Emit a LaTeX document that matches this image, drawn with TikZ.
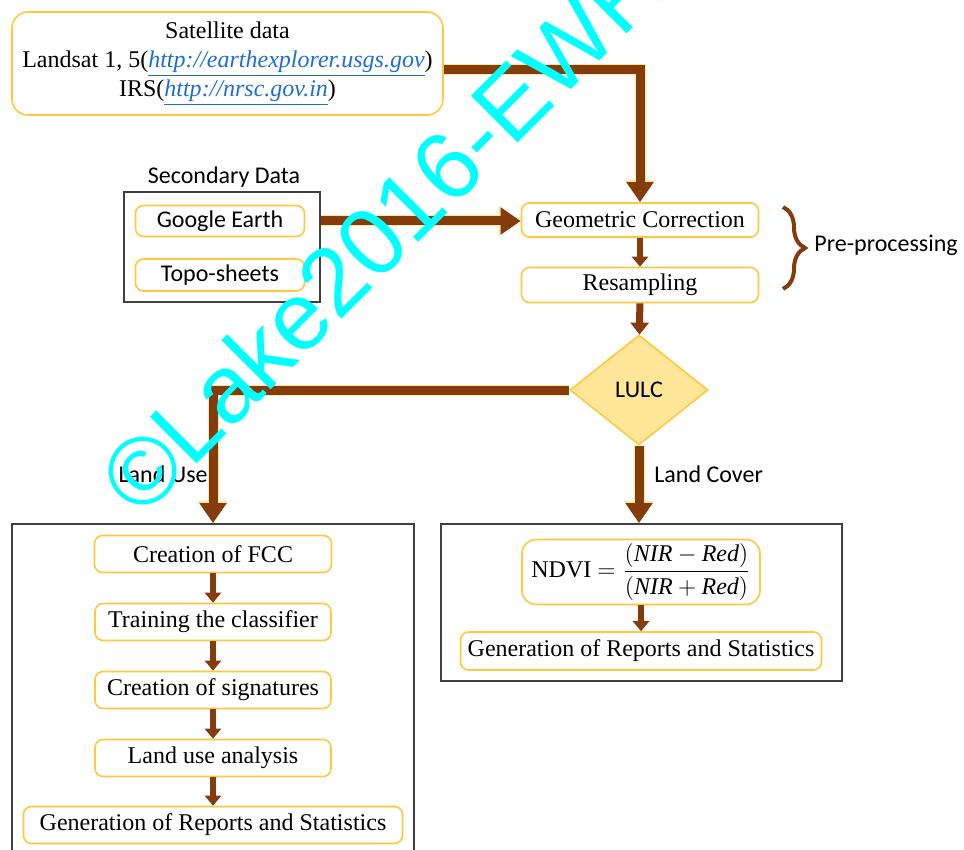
\documentclass[tikz,border=0pt]{standalone}
\usepackage{fontspec}
\setmainfont{Liberation Serif}
\newfontfamily\calibri{Carlito}
\newfontfamily\wmfont{Liberation Sans}
\usetikzlibrary{shapes.geometric,arrows.meta,decorations.pathreplacing}
\definecolor{brun}{HTML}{843C0C}
\definecolor{jaune}{HTML}{FFC83D}
\definecolor{jaunepale}{HTML}{FFE699}
\definecolor{bleu}{HTML}{1F6FD0}
\definecolor{gris}{HTML}{404040}
\definecolor{cyanwm}{HTML}{00FFFF}
\newcommand\adresse[1]{\textcolor{bleu}{\underline{\textit{#1}}}}
\tikzset{
  boite/.style={draw=jaune, line width=0.8pt, rounded corners=4pt, fill=white,
    inner sep=0pt, align=center, font=\fontsize{12}{14.4}\selectfont},
  cadre/.style={draw=gris, line width=0.9pt, inner sep=0pt},
  etiq/.style={font=\calibri\fontsize{12}{14}\selectfont},
  libre/.style={etiq, inner sep=0pt},
  losange/.style={diamond, draw=jaune, fill=jaunepale, line width=0.8pt,
    minimum width=69pt, minimum height=55pt, inner sep=0pt, etiq},
  fleche/.style={draw=brun, line width=4.5pt, -{Triangle[width=13pt,length=10pt]},
    preaction={draw=jaunepale, line width=5.5pt, -{Triangle[width=14.5pt,length=11pt]}}},
  moyenne/.style={draw=brun, line width=3.5pt, -{Triangle[width=9pt,length=6pt]}},
  petite/.style={draw=brun, line width=3pt, -{Triangle[width=8pt,length=5pt]}},
}
\begin{document}
\begin{tikzpicture}[x=0.5pt,y=-0.5pt]
    \useasboundingbox (0,0) rectangle (964,850);
    % les données
    \node[boite, rounded corners=8pt, minimum width=215.5pt, minimum height=51.5pt] (sat) at (227.5,63.5)
      {Satellite data\\Landsat 1, 5(\adresse{http://earthexplorer.usgs.gov})\\IRS(\adresse{http://nrsc.gov.in})};
    \node[etiq] (seclab) at (224,177) {Secondary Data};
    \node[cadre, minimum width=98pt, minimum height=55pt] (sec) at (222,247) {};
    \node[boite, etiq, minimum width=84.5pt, minimum height=15.5pt] (ge) at (220,221) {Google Earth};
    \node[boite, etiq, minimum width=84.5pt, minimum height=16pt] (topo) at (220,275) {Topo-sheets};
    % pré-traitement
    \node[boite, minimum width=118.5pt, minimum height=17pt] (geo) at (640,220) {Geometric Correction};
    \node[boite, minimum width=118.5pt, minimum height=17.5pt] (resamp) at (640,285) {Resampling};
    \draw[brun, line width=2pt, decorate, decoration={brace, amplitude=11pt}] (783,207) -- (783,289);
    \node[libre, anchor=west] (pre) at (814,245) {Pre-processing};
    \node[losange] (lulc) at (639,390) {LULC};
    \node[libre, anchor=east] (use) at (208,474) {Land Use};
    \node[libre, anchor=west] (cover) at (654,474) {Land Cover};
    % land use
    \node[cadre, minimum width=201pt, minimum height=166pt] (gauche) at (213,690) {};
    \node[boite, minimum width=118.5pt, minimum height=18.5pt] (fcc) at (213,554) {Creation of FCC};
    \node[boite, minimum width=118pt, minimum height=18.5pt] (train) at (213,622) {Training the classifier};
    \node[boite, minimum width=118pt, minimum height=18.5pt] (sig) at (213,690) {Creation of signatures};
    \node[boite, minimum width=118pt, minimum height=18.5pt] (lua) at (213,758) {Land use analysis};
    \node[boite, minimum width=189.5pt, minimum height=18.5pt] (genl) at (213,825) {Generation of Reports and Statistics};
    % land cover
    \node[cadre, minimum width=200.5pt, minimum height=78.5pt] (droite) at (641.5,602.5) {};
    \node[boite, rounded corners=7pt, minimum width=119pt, minimum height=32.5pt] (ndvi) at (641,572)
      {NDVI $=\displaystyle\frac{(\mathit{NIR}-\mathit{Red})}{(\mathit{NIR}+\mathit{Red})}$};
    \node[boite, minimum width=180.5pt, minimum height=19pt] (genr) at (641,651) {Generation of Reports and Statistics};
    % les flèches
    \draw[fleche] ([yshift=-3.25pt]sat.east) -| (geo.north);
    \draw[fleche] (ge -| sec.east) -- (ge -| geo.west);
    \draw[petite] (geo) -- (resamp);
    \draw[moyenne] (resamp) -- (lulc);
    \draw[fleche] (lulc.west) -| (gauche.north);
    \draw[fleche] (lulc.south) -- (lulc.south |- droite.north);
    \foreach \a/\b in {fcc/train, train/sig, sig/lua, lua/genl}
      \draw[petite] (\a) -- (\b);
    \draw[petite] (ndvi) -- (genr);
    % filigrane
    \node[font=\wmfont\fontsize{48}{58}\selectfont, text=cyanwm, rotate=45, anchor=base west, inner sep=0pt]
      (filigrane) at (141,520) {©Lake2016-EWR};
\end{tikzpicture}
\end{document}
